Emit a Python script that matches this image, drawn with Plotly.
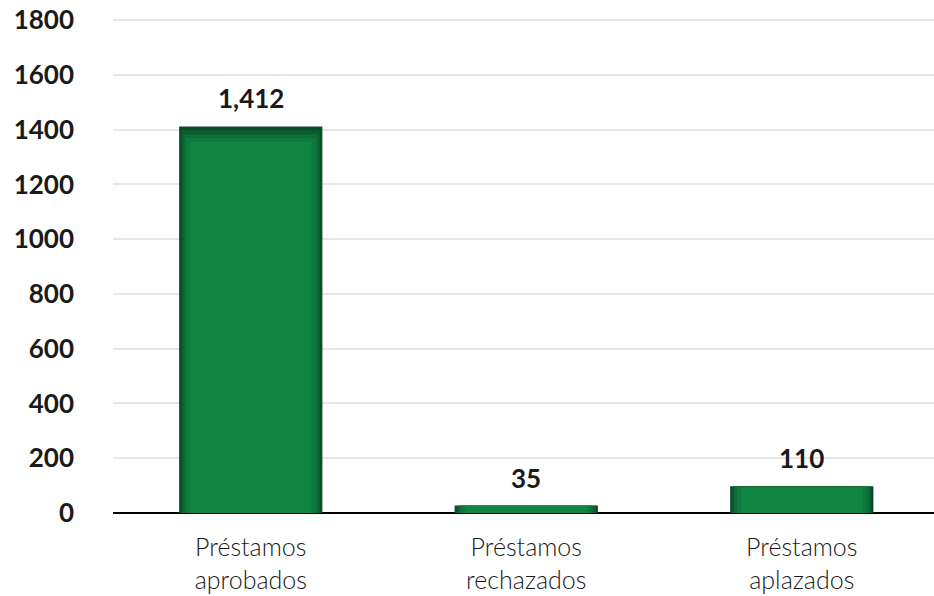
import plotly.graph_objects as go

categories = ["Préstamos<br>aprobados", "Préstamos<br>rechazados", "Préstamos<br>aplazados"]
bar_values = [1412, 27, 98]
value_labels = ["1,412", "35", "110"]
y_ticks = [0, 200, 400, 600, 800, 1000, 1200, 1400, 1600, 1800]

FONT = "Lato, Roboto, sans-serif"

fig = go.Figure()

layers = [
    (0.52, "#0a4c27", 1.0),
    (0.505, "#0b5c2f", 0.99),
    (0.49, "#0d6c37", 0.98),
    (0.47, "#0f7a3e", 0.97),
    (0.44, "#108441", 0.96),
]
for w, c, f in layers:
    fig.add_trace(go.Bar(
        x=categories, y=[v * f for v in bar_values], width=w,
        marker=dict(color=c, line=dict(width=0)),
        hoverinfo="skip", showlegend=False,
    ))

for cat, v, lab in zip(categories, bar_values, value_labels):
    fig.add_annotation(x=cat, y=v, text=f"<b>{lab}</b>", showarrow=False,
                       yanchor="bottom", yshift=10,
                       font=dict(family=FONT, size=26, color="#1a1a1a"))

fig.update_layout(
    barmode="overlay",
    width=934, height=596,
    margin=dict(l=113, r=0, t=12, b=83),
    plot_bgcolor="white", paper_bgcolor="white",
    font=dict(family=FONT, color="#1a1a1a"),
)
fig.update_xaxes(
    range=[-0.5, 2.48], showgrid=False,
    tickfont=dict(family=FONT, size=25, color="#1a1a1a", weight=300),
    ticks="", showline=False, zeroline=False, ticklabelstandoff=17,
)
fig.update_yaxes(
    range=[0, 1830], tickvals=y_ticks, ticktext=[f"<b>{t}</b>" for t in y_ticks],
    showgrid=True, gridcolor="#e6e6e6", gridwidth=2,
    zeroline=True, zerolinecolor="#000000", zerolinewidth=2,
    tickfont=dict(family=FONT, size=26, color="#1a1a1a"),
    ticklabelstandoff=38, showline=False, automargin=False,
    ticklabeloverflow="allow",
)

fig.write_html("out.html", config={"displayModeBar": False},
               post_script="document.body.style.margin='0';")
